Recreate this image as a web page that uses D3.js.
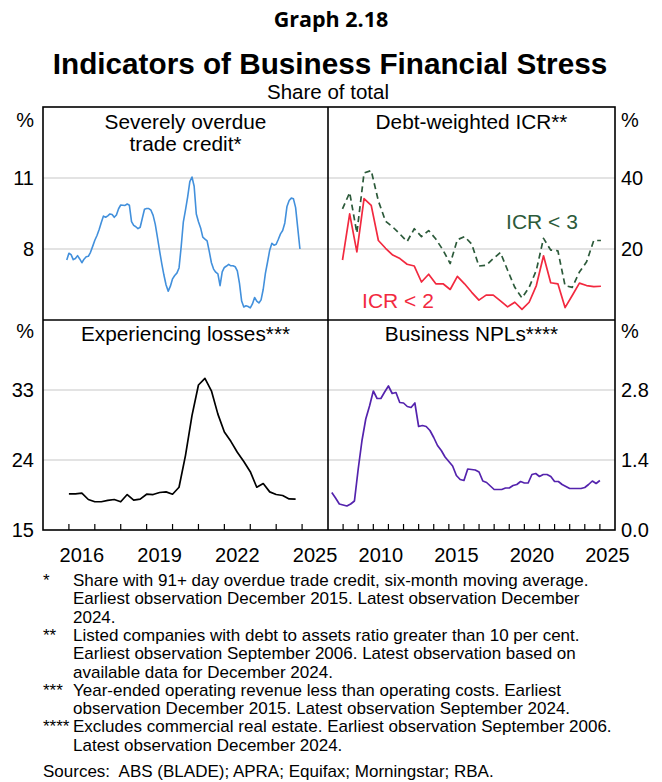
<!DOCTYPE html>
<html><head><meta charset="utf-8">
<script src="https://cdn.jsdelivr.net/npm/d3@7"></script>
<style>
body{margin:0;background:#fff}
svg{display:block}
text{font-family:"Liberation Sans",Arial,sans-serif;fill:#000;white-space:pre}
</style>
</head><body>
<svg id="chart" width="662" height="782"></svg>
<script>
// ---------------- DATA ----------------
// Severely overdue trade credit, monthly, Dec 2015 - Dec 2024 (%)
const tradeCreditStart = 2015.917;
const tradeCredit = [7.54,7.82,7.76,7.55,7.6,7.72,7.58,7.42,7.57,7.67,
  7.69,7.86,8.11,8.37,8.57,8.82,9.12,9.39,9.34,9.4,
  9.48,9.46,9.34,9.44,9.7,9.86,9.85,9.84,9.9,9.85,
  9.16,9.0,8.94,8.86,8.92,9.3,9.68,9.71,9.71,9.64,
  9.42,9.04,8.49,7.92,7.38,6.9,6.48,6.22,6.43,6.74,
  6.88,6.98,7.2,8.1,9.15,9.65,10.2,10.85,11.04,10.65,
  9.48,9.15,8.89,8.5,8.42,8.34,7.9,7.42,7.15,7.02,
  6.95,6.45,7.03,7.22,7.28,7.35,7.29,7.29,7.25,7.08,
  6.55,5.8,5.55,5.6,5.57,5.51,5.68,5.95,5.8,5.72,
  5.85,6.3,6.97,7.45,7.95,8.24,8.16,8.2,8.41,8.64,
  8.78,9.1,9.8,10.05,10.15,10.12,9.75,8.87,8.0];

// Debt-weighted ICR, semi-annual observations (%), plotted between these axis positions
const icrFirst = 2007.96, icrLast = 2025.07;
const icrBelow2 = [16.9,29.9,19.2,34.2,32.3,22.4,20.2,18.3,17.3,15.7,
  15.2,10.7,12.9,10.2,10.2,8.6,12.3,10.2,7.8,5.6,
  7.0,7.0,5.4,3.7,5.0,3.0,5.0,9.7,18.1,10.5,
  10.2,3.5,6.9,10.4,9.7,9.4,9.5];
const icrBelow3 = [31.3,35.9,24.5,41.4,42.1,33.5,27.8,26.2,24.2,22.1,
  25.7,23.5,25.2,22.8,19.7,15.9,22.6,23.5,21.4,15.2,
  15.4,17.3,19.0,14.0,9.2,6.2,9.2,14.0,23.0,19.7,
  19.5,9.7,9.2,13.5,16.4,22.4,22.4];

// Experiencing losses, quarterly, Dec 2015 - Sep 2024 (%)
const lossesStart = 2016.0;
const losses = [19.65,19.65,19.73,18.92,18.63,18.63,18.8,18.92,18.63,19.56,
  18.84,18.97,19.6,19.56,19.82,19.9,19.6,20.5,24.6,29.7,
  33.64,34.5,32.9,29.9,27.6,26.4,25.0,23.8,22.5,20.5,
  20.97,19.9,19.56,19.44,19.0,18.97];

// Business NPLs, quarterly, to Dec 2024 (%)
const nplStart = 2007.25;
const npl = [0.75,0.64,0.52,0.50,0.48,0.52,0.58,1.22,1.79,2.22,2.48,2.78,
  2.63,2.63,2.76,2.88,2.73,2.75,2.55,2.54,2.47,2.45,2.54,2.07,
  2.09,2.07,1.99,1.85,1.69,1.59,1.46,1.37,1.28,1.09,1.01,0.99,
  1.22,1.21,1.20,1.16,0.98,0.95,0.88,0.81,0.81,0.81,0.84,0.84,
  0.89,0.91,0.97,0.94,0.94,1.11,1.13,1.07,1.11,1.11,1.07,0.97,
  0.97,0.91,0.87,0.83,0.83,0.83,0.83,0.85,0.91,0.98,0.93,0.99];

// Axes
const leftYearTicks = [2016,2017,2018,2019,2020,2021,2022,2023,2024,2025];
const leftYearLabels = [2016,2019,2022,2025];
const rightYearTicks = d3.range(2008, 2026);
const rightYearLabels = [2010,2015,2020,2025];
const tlTicks = [8,11], trTicks = [20,40], blTicks = [15,24,33], brTicks = [0,1.4,2.8];
const tlLabels = ["8","11"], trLabels = ["20","40"], blLabels = ["15","24","33"], brLabels = ["0.0","1.4","2.8"];

const footnotes = [
  ["*", "Share with 91+ day overdue trade credit, six-month moving average."],
  ["", "Earliest observation December 2015. Latest observation December"],
  ["", "2024."],
  ["**", "Listed companies with debt to assets ratio greater than 10 per cent."],
  ["", "Earliest observation September 2006. Latest observation based on"],
  ["", "available data for December 2024."],
  ["***", "Year-ended operating revenue less than operating costs. Earliest"],
  ["", "observation December 2015. Latest observation September 2024."],
  ["****", "Excludes commercial real estate. Earliest observation September 2006."],
  ["", "Latest observation December 2024."]
];
const sources = "Sources:  ABS (BLADE); APRA; Equifax; Morningstar; RBA.";

// ---------------- LAYOUT ----------------
const L = 43, M = 328, R = 615, T = 107, MY = 320, B = 530;
const svg = d3.select("#chart");
const C = {blue:"#4290dc", red:"#f2293f", green:"#2c5a3a", black:"#000", purple:"#5423ad", grid:"#c8c8c8"};

const xL = d3.scaleLinear().domain([2015, 2026]).range([L, M]);
const xR = d3.scaleLinear().domain([2007, 2026]).range([M, R]);
const yTL = d3.scaleLinear().domain([5, 14]).range([MY, T]);
const yTR = d3.scaleLinear().domain([0, 60]).range([MY, T]);
const yBL = d3.scaleLinear().domain([15, 42]).range([B, MY]);
const yBR = d3.scaleLinear().domain([0, 4.2]).range([B, MY]);

// Titles
svg.append("text").attr("x", 331).attr("y", 27).attr("text-anchor","middle")
  .style("font-family","'Open Sans',sans-serif").style("font-weight","700").style("font-size","21.5px")
  .text("Graph 2.18");
svg.append("text").attr("x", 330).attr("y", 74).attr("text-anchor","middle")
  .style("font-weight","700").style("font-size","29.7px")
  .text("Indicators of Business Financial Stress");
svg.append("text").attr("x", 328).attr("y", 99).attr("text-anchor","middle")
  .style("font-size","20.5px").text("Share of total");

// Gridlines
function grid(vals, y, x0, x1) {
  svg.append("g").selectAll("line").data(vals).join("line")
    .attr("x1", x0).attr("x2", x1).attr("y1", d => y(d)).attr("y2", d => y(d))
    .attr("stroke", C.grid).attr("stroke-width", 1.2);
}
grid(tlTicks, yTL, L, M);
grid(trTicks, yTR, M, R);
grid([24,33], yBL, L, M);
grid([1.4,2.8], yBR, M, R);

// Y tick labels
const fs = 20;
function yLabels(vals, labels, y, x, anchor) {
  svg.append("g").selectAll("text").data(vals).join("text")
    .attr("x", x).attr("y", d => y(d) + fs*0.36).attr("text-anchor", anchor)
    .style("font-size", fs+"px").text((d,i) => labels[i]);
}
yLabels(tlTicks, tlLabels, yTL, 34, "end");
yLabels(trTicks, trLabels, yTR, 621, "start");
yLabels(blTicks, blLabels, yBL, 34, "end");
yLabels(brTicks, brLabels, yBR, 621, "start");
// % unit labels
[[34,127,"end"],[34,338,"end"],[621,127,"start"],[621,338,"start"]].forEach(p=>{
  svg.append("text").attr("x",p[0]).attr("y",p[1]).attr("text-anchor",p[2]).style("font-size",fs+"px").text("%");
});

// X ticks (inside, pointing upward) and labels
function xAxis(ticks, labels, x) {
  svg.append("g").selectAll("line").data(ticks).join("line")
    .attr("x1", d => x(d)).attr("x2", d => x(d)).attr("y1", B).attr("y2", B - 6)
    .attr("stroke", "#000").attr("stroke-width", 1.2);
  svg.append("g").selectAll("text").data(labels).join("text")
    .attr("x", d => x(d + 0.5)).attr("y", 562).attr("text-anchor","middle")
    .style("font-size", fs+"px").text(d => d);
}
xAxis(leftYearTicks, leftYearLabels, xL);
xAxis(rightYearTicks, rightYearLabels, xR);

// Series
function series(vals, xFn, y, color, width, dash) {
  const line = d3.line().x((d,i) => xFn(i)).y(d => y(d));
  const p = svg.append("path").datum(vals).attr("d", line)
    .attr("fill","none").attr("stroke", color).attr("stroke-width", width)
    .attr("stroke-linejoin","round");
  if (dash) p.attr("stroke-dasharray", dash);
}
series(tradeCredit, i => xL(tradeCreditStart + i/12), yTL, C.blue, 1.6);
const icrStep = (icrLast - icrFirst) / (icrBelow2.length - 1);
series(icrBelow3, i => xR(icrFirst + i*icrStep), yTR, C.green, 1.7, "6,4");
series(icrBelow2, i => xR(icrFirst + i*icrStep), yTR, C.red, 1.7);
series(losses, i => xL(lossesStart + i/4), yBL, C.black, 1.7);
series(npl, i => xR(nplStart + i/4), yBR, C.purple, 1.7);

// Series labels
svg.append("text").attr("x", 542).attr("y", 229).attr("text-anchor","middle")
  .style("font-size","21px").style("fill", C.green).text("ICR < 3");
svg.append("text").attr("x", 398).attr("y", 308).attr("text-anchor","middle")
  .style("font-size","21px").style("fill", C.red).text("ICR < 2");

// Panel titles
const pt = 20.8;
svg.append("text").attr("x", 185.5).attr("y", 129).attr("text-anchor","middle").style("font-size",pt+"px").text("Severely overdue");
svg.append("text").attr("x", 185.5).attr("y", 151).attr("text-anchor","middle").style("font-size",pt+"px").text("trade credit*");
svg.append("text").attr("x", 471.5).attr("y", 129).attr("text-anchor","middle").style("font-size",pt+"px").text("Debt-weighted ICR**");
svg.append("text").attr("x", 185.5).attr("y", 341).attr("text-anchor","middle").style("font-size",pt+"px").text("Experiencing losses***");
svg.append("text").attr("x", 471.5).attr("y", 341).attr("text-anchor","middle").style("font-size",pt+"px").text("Business NPLs****");

// Frame
const fr = svg.append("g").attr("stroke","#000").attr("stroke-width",1.6).attr("fill","none");
fr.append("rect").attr("x", L).attr("y", T).attr("width", R-L).attr("height", B-T);
fr.append("line").attr("x1", M).attr("x2", M).attr("y1", T).attr("y2", B);
fr.append("line").attr("x1", L).attr("x2", R).attr("y1", MY).attr("y2", MY);

// Footnotes
const fn = svg.append("g").style("font-size","17px");
footnotes.forEach((f,i) => {
  const y = 586 + i*18.3;
  if (f[0]) fn.append("text").attr("x", 43).attr("y", y).text(f[0]);
  fn.append("text").attr("x", 73).attr("y", y).text(f[1]);
});
fn.append("text").attr("x", 43).attr("y", 777).text(sources);
</script>
</body></html>
